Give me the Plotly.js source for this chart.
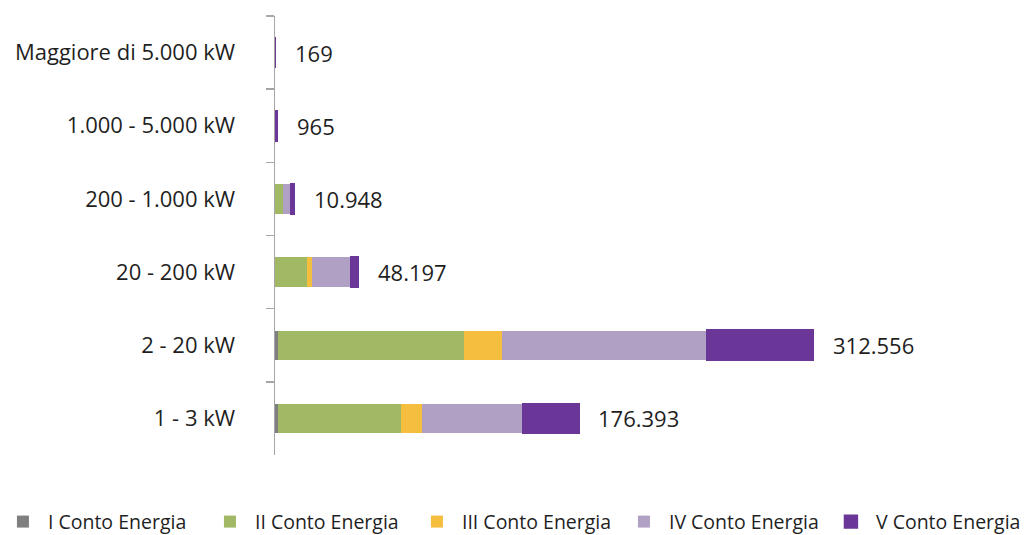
<!DOCTYPE html>
<html>
<head>
<meta charset="utf-8">
<script src="https://cdn.plot.ly/plotly-3.0.1.min.js"></script>
<style>
  html, body { margin: 0; padding: 0; background: #ffffff; }
  #chart { width: 1032px; height: 535px; }
</style>
</head>
<body>
<div id="chart"></div>
<script>
// Categories (top to bottom)
const categories = [
  "Maggiore di 5.000 kW",
  "1.000 - 5.000 kW",
  "200 - 1.000 kW",
  "20 - 200 kW",
  "2 - 20 kW",
  "1 - 3 kW"
];

// Series values (number of plants), same order as categories
const contoI   = [0,   0,   40,   200,   1700,   1600];
const contoII  = [0,   0,   4500, 18200, 108000, 71400];
const contoIII = [0,   0,   60,   3150,  22300,  12600];
const contoIV  = [0,   0,   4900, 22500, 119000, 58900];
const contoV   = [169, 965, 1448, 4147,  61556,  31893];

const seriesNames = ["I Conto Energia", "II Conto Energia", "III Conto Energia", "IV Conto Energia", "V Conto Energia"];
const seriesColors = ["#7f7f7f", "#a1b964", "#f5be3f", "#b0a1c4", "#6a3798"];
const seriesData = [contoI, contoII, contoIII, contoIV, contoV];

function fmtIt(n) {
  return String(Math.round(n)).replace(/\B(?=(\d{3})+(?!\d))/g, ".");
}

const traces = seriesData.map((vals, i) => ({
  type: "bar",
  orientation: "h",
  name: seriesNames[i],
  x: vals,
  y: categories,
  marker: {
    color: seriesColors[i],
    line: { width: i === 4 ? 2.4 : 0, color: seriesColors[i] }
  },
  hoverinfo: "x+name"
}));

const totals = categories.map((c, k) => seriesData.reduce((s, arr) => s + arr[k], 0));

const annotations = categories.map((c, k) => ({
  x: totals[k],
  y: c,
  xref: "x",
  yref: "y",
  text: fmtIt(totals[k]),
  showarrow: false,
  xanchor: "left",
  xshift: 18,
  font: { family: "Open Sans, sans-serif", size: 22, color: "#1f1f1f" }
}));

const layout = {
  width: 1032,
  height: 535,
  margin: { l: 275, r: 0, t: 16, b: 80, autoexpand: false },
  paper_bgcolor: "#ffffff",
  plot_bgcolor: "#ffffff",
  barmode: "stack",
  bargap: 0.6,
  showlegend: true,
  font: { family: "Open Sans, sans-serif", color: "#1f1f1f" },
  xaxis: {
    range: [0, 440000],
    showgrid: false,
    zeroline: false,
    showline: false,
    showticklabels: false,
    ticks: ""
  },
  yaxis: {
    type: "category",
    categoryorder: "array",
    categoryarray: categories,
    autorange: "reversed",
    automargin: false,
    showgrid: false,
    zeroline: false,
    showline: true,
    linecolor: "#a6a6a6",
    linewidth: 1.5,
    ticks: "outside",
    tickson: "boundaries",
    ticklen: 8,
    tickwidth: 1.5,
    tickcolor: "#a6a6a6",
    ticklabelstandoff: 34,
    tickfont: { family: "Open Sans, sans-serif", size: 22, color: "#1f1f1f" }
  },
  legend: {
    orientation: "h",
    xref: "paper",
    yref: "paper",
    x: -0.366,
    xanchor: "left",
    y: -0.108,
    yanchor: "top",
    traceorder: "normal",
    itemwidth: 40,
    entrywidth: 152,
    entrywidthmode: "pixels",
    font: { family: "Open Sans, sans-serif", size: 19.5, color: "#1f1f1f" }
  },
  annotations: annotations
};

Plotly.newPlot("chart", traces, layout, { displayModeBar: false, staticPlot: true });
</script>
</body>
</html>
